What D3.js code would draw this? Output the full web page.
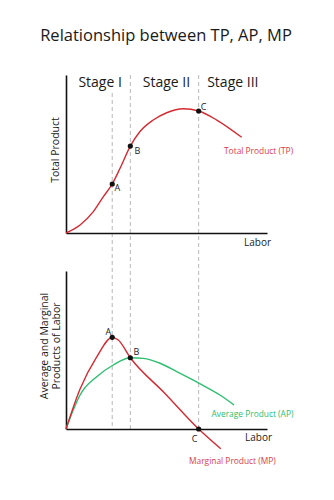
<!DOCTYPE html>
<html>
<head>
<meta charset="utf-8">
<script src="https://cdn.jsdelivr.net/npm/d3@7"></script>
<style>
  html, body { margin: 0; padding: 0; background: #fff; }
  svg { display: block; font-family: "Open Sans", "Noto Sans", sans-serif; }
</style>
</head>
<body>
<svg id="chart" width="334" height="500"></svg>
<script>
// Labor input (x) and output values
const tpLabor = [0, 7, 13.6, 18.6, 23, 26.9, 32, 36.8, 43.4, 50.1, 58.4, 66, 75, 87.4];
const tpValues = [0, 5.1, 13.5, 23, 31, 41, 55, 64.2, 71.5, 76.1, 78.6, 77.2, 71.5, 60.6];

const mpLabor = [0, 7, 15.3, 23, 26, 32, 49, 66, 77];
const mpValues = [0, 25.3, 45.6, 58, 56.3, 45.1, 22.8, 0, -12.5];

const apLabor = [0, 3.6, 7, 15.3, 23.5, 32, 38.5, 46.8, 55.1, 66.3, 76.6, 83.6];
const apValues = [0, 12, 21.5, 33.1, 40.5, 45.1, 44.7, 41.6, 36.3, 28.9, 21.5, 15.2];

// Stage boundaries on the labor axis
const boundaryNames = ["A", "B", "C"];
const boundaryLabor = [23, 32, 66];
const stageNames = ["Stage I", "Stage II", "Stage III"];
const stageCenters = [17, 50, 83];

// Marked points on each panel
const tpPoints = [{n: "A", x: 23, y: 31}, {n: "B", x: 32, y: 55}, {n: "C", x: 66, y: 77.2}];
const lowPoints = [{n: "A", x: 23, y: 58}, {n: "B", x: 32, y: 45.1}, {n: "C", x: 66, y: 0}];

const RED = "#d42a32";
const RED_TEXT = "#dc3d45";
const GREEN = "#2dbe6f";

const svg = d3.select("#chart");

const x = d3.scaleLinear().domain([0, 100]).range([66, 267]);
const yTop = d3.scaleLinear().domain([0, 100]).range([233, 75]);
const yLow = d3.scaleLinear().domain([0, 100]).range([429, 271]);

// Title
svg.append("text")
  .attr("x", 166).attr("y", 41)
  .attr("text-anchor", "middle")
  .attr("font-size", 16.5)
  .attr("fill", "#1a1a1a")
  .text("Relationship between TP, AP, MP");

// Dashed stage boundaries spanning both panels
svg.append("g").selectAll("line")
  .data(boundaryLabor)
  .join("line")
  .attr("x1", d => x(d)).attr("x2", d => x(d))
  .attr("y1", (d, i) => i === 0 ? 93 : 75)
  .attr("y2", yLow(0))
  .attr("stroke", "#b8b8b8")
  .attr("stroke-width", 1)
  .attr("stroke-dasharray", "4,3");

// Stage labels
svg.append("g").selectAll("text")
  .data(stageNames)
  .join("text")
  .attr("x", (d, i) => x(stageCenters[i]))
  .attr("y", 87)
  .attr("text-anchor", "middle")
  .attr("font-size", 14)
  .attr("fill", "#1a1a1a")
  .text(d => d);

function drawAxes(y) {
  const g = svg.append("g");
  g.append("g")
    .attr("transform", `translate(0,${y(0)})`)
    .call(d3.axisBottom(x).tickValues([]).tickSizeOuter(0));
  g.append("g")
    .attr("transform", `translate(${x(0)},0)`)
    .call(d3.axisLeft(y).tickValues([]).tickSizeOuter(0));
  g.selectAll(".domain").attr("stroke", "#111").attr("stroke-width", 1.6);
}

drawAxes(yTop);
drawAxes(yLow);

const curve = d3.curveMonotoneX;

// Total product curve
const tpLine = d3.line().curve(curve).x(d => x(d[0])).y(d => yTop(d[1]));
svg.append("path")
  .datum(d3.zip(tpLabor, tpValues))
  .attr("d", tpLine)
  .attr("fill", "none").attr("stroke", RED).attr("stroke-width", 1.4);

// Average and marginal product curves
const lowLine = d3.line().curve(curve).x(d => x(d[0])).y(d => yLow(d[1]));
svg.append("path")
  .datum(d3.zip(apLabor, apValues))
  .attr("d", lowLine)
  .attr("fill", "none").attr("stroke", GREEN).attr("stroke-width", 1.4);
svg.append("path")
  .datum(d3.zip(mpLabor, mpValues))
  .attr("d", lowLine)
  .attr("fill", "none").attr("stroke", RED).attr("stroke-width", 1.4);

// Points and their letters
const tpOffsets = {A: [5, 3.5], B: [7, 5], C: [5, -4]};
const lowOffsets = {A: [-4, -5], B: [6, -6], C: [-4, 10]};

function drawPoints(points, y, offsets) {
  const g = svg.append("g");
  g.selectAll("circle").data(points).join("circle")
    .attr("cx", d => x(d.x)).attr("cy", d => y(d.y))
    .attr("r", 2.6).attr("fill", "#111");
  g.selectAll("text").data(points).join("text")
    .attr("x", d => x(d.x) + offsets[d.n][0])
    .attr("y", d => y(d.y) + offsets[d.n][1] + 3)
    .attr("text-anchor", "middle")
    .attr("font-size", 9)
    .attr("fill", "#222")
    .text(d => d.n);
}
drawPoints(tpPoints, yTop, tpOffsets);
drawPoints(lowPoints, yLow, lowOffsets);

// Axis titles
svg.append("text").attr("x", 244).attr("y", 246)
  .attr("font-size", 10).attr("fill", "#1a1a1a").text("Labor");
svg.append("text").attr("x", 245).attr("y", 441)
  .attr("font-size", 10).attr("fill", "#1a1a1a").text("Labor");

svg.append("text")
  .attr("transform", "translate(58.5,150) rotate(-90)")
  .attr("text-anchor", "middle")
  .attr("font-size", 10.5).attr("fill", "#1a1a1a")
  .text("Total Product");

const lowTitle = svg.append("text")
  .attr("transform", "translate(48,346) rotate(-90)")
  .attr("text-anchor", "middle")
  .attr("font-size", 10.5).attr("fill", "#1a1a1a");
lowTitle.append("tspan").attr("x", 0).attr("dy", 0).text("Average and Marginal");
lowTitle.append("tspan").attr("x", 0).attr("dy", 11.5).text("Products of Labor");

// Curve names
svg.append("text").attr("x", 224).attr("y", 153.5)
  .attr("font-size", 8.4).attr("fill", RED_TEXT).text("Total Product (TP)");
svg.append("text").attr("x", 211.5).attr("y", 416.5)
  .attr("font-size", 8.4).attr("fill", GREEN).text("Average Product (AP)");
svg.append("text").attr("x", 189).attr("y", 464)
  .attr("font-size", 8.4).attr("fill", RED_TEXT).text("Marginal Product (MP)");
</script>
</body>
</html>
